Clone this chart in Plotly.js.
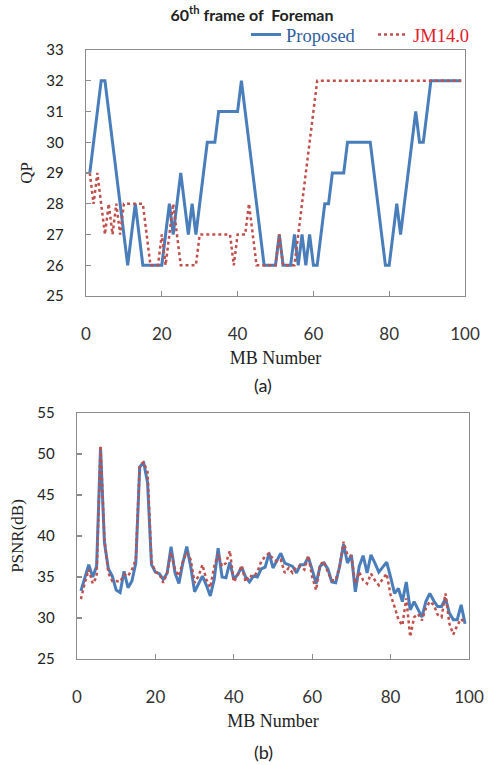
<!DOCTYPE html>
<html>
<head>
<meta charset="utf-8">
<script src="https://cdn.plot.ly/plotly-3.0.1.min.js"></script>
<style>html,body{margin:0;padding:0;background:#fff;}#chart{width:490px;height:765px;}</style>
</head>
<body>
<div id="chart"></div>
<script>
const mbNumber = [1,2,3,4,5,6,7,8,9,10,11,12,13,14,15,16,17,18,19,20,21,22,23,24,25,26,27,28,29,30,31,32,33,34,35,36,37,38,39,40,41,42,43,44,45,46,47,48,49,50,51,52,53,54,55,56,57,58,59,60,61,62,63,64,65,66,67,68,69,70,71,72,73,74,75,76,77,78,79,80,81,82,83,84,85,86,87,88,89,90,91,92,93,94,95,96,97,98,99];

const qpProposed = [29,30,31,32,32,31,30,29,28,27,26,27,28,27,26,26,26,26,26,26,27,28,27,28,29,28,27,28,27,28,29,30,30,30,31,31,31,31,31,31,32,31,30,29,28,27,26,26,26,26,27,26,26,26,27,26,27,26,27,26,26,27,28,28,29,29,29,29,30,30,30,30,30,30,30,29,28,27,26,26,27,28,27,28,29,30,31,30,30,31,32,32,32,32,32,32,32,32,32];

const qpJM = [29,28,29,28,27,28,27,28,27,28,28,28,28,28,28,27,26,26,26,27,26,27,28,27,26,26,26,26,26,27,27,27,27,27,27,27,27,27,26,27,27,27,28,27,26,26,26,26,26,26,27,26,26,26,26,27,28,29,30,31,32,32,32,32,32,32,32,32,32,32,32,32,32,32,32,32,32,32,32,32,32,32,32,32,32,32,32,32,32,32,32,32,32,32,32,32,32,32,32];

const psnrProposed = [33.3,35.0,36.5,35.0,36.3,50.8,39.2,36.0,35.1,33.4,33.1,35.7,33.7,34.5,36.7,48.4,49.0,46.5,36.5,35.6,35.4,34.7,35.5,38.7,35.5,34.2,36.7,38.7,36.3,33.2,34.2,35.1,34.0,32.7,34.7,38.5,35.0,34.9,36.8,34.7,35.3,36.2,35.0,34.4,35.1,35.0,36.0,36.2,37.9,36.1,37.0,37.9,36.7,36.5,36.3,35.5,36.5,36.5,37.4,35.9,34.2,36.3,36.7,36.0,34.4,34.3,36.3,39.0,36.7,37.7,33.2,36.3,37.6,35.5,37.7,36.7,35.6,36.2,36.8,35.0,33.0,33.6,32.0,34.4,31.0,32.0,31.0,30.1,32.0,33.0,32.1,31.4,31.4,32.4,30.6,29.8,29.8,31.6,29.3];

const psnrJM = [32.3,34.3,35.9,34.2,35.0,51.0,39.6,35.5,34.5,34.5,34.4,35.3,35.1,35.9,37.1,48.6,49.0,47.8,36.9,35.6,35.4,34.3,35.5,38.0,35.9,35.1,36.9,38.0,37.1,34.3,35.1,36.5,34.7,33.7,36.3,37.8,36.3,36.7,38.2,34.4,35.2,36.4,34.4,35.2,35.0,35.6,36.9,37.5,37.9,37.2,36.9,37.1,35.5,36.1,35.5,36.3,36.3,35.9,37.6,35.0,33.4,36.5,36.9,35.6,34.6,34.6,36.3,39.3,37.7,37.5,34.2,35.6,34.6,34.2,35.4,34.6,34.0,34.8,35.4,32.8,31.4,29.8,29.1,32.4,27.7,30.1,30.5,29.7,31.2,32.0,31.6,30.4,30.1,33.0,29.3,28.0,29.1,29.9,29.3];

const seriesNames = ['Proposed', 'JM14.0'];
const chartTitle = '60<sup>th</sup> frame of  Foreman';
const xTitle = 'MB Number';
const qpTitle = 'QP';
const psnrTitle = 'PSNR(dB)';

const blue = '#4a7ebb';
const red = '#c0504d';
const axisCol = '#8c8c8c';
const serif = 'Liberation Serif, Times New Roman, serif';
const sans = 'Lato, Carlito, Calibri, sans-serif';

const traces = [
  {x: mbNumber, y: qpProposed, xaxis: 'x', yaxis: 'y', type: 'scatter', mode: 'lines',
   name: '<span style="color:#2f5d9e">' + seriesNames[0] + '</span>',
   line: {color: blue, width: 3}},
  {x: mbNumber, y: qpJM, xaxis: 'x', yaxis: 'y', type: 'scatter', mode: 'lines',
   name: '<span style="color:#e0202e">' + seriesNames[1] + '</span>',
   line: {color: red, width: 2.5, dash: 'dot'}},
  {x: mbNumber, y: psnrProposed, xaxis: 'x2', yaxis: 'y2', type: 'scatter', mode: 'lines',
   name: seriesNames[0], showlegend: false, line: {color: blue, width: 3}},
  {x: mbNumber, y: psnrJM, xaxis: 'x2', yaxis: 'y2', type: 'scatter', mode: 'lines',
   name: seriesNames[1], showlegend: false, line: {color: red, width: 2.5, dash: 'dot'}}
];

function xAxis(domain, anchor) {
  return {
    domain: domain, anchor: anchor, range: [0, 100], tick0: 0, dtick: 20,
    showgrid: false, zeroline: false, showline: true, mirror: true,
    linecolor: axisCol, linewidth: 1.3, ticks: 'inside', ticklen: 5, tickcolor: axisCol, tickwidth: 1.2,
    tickfont: {family: sans, size: 17, color: '#333'}, ticklabelstandoff: 22,
    title: {text: xTitle, font: {family: serif, size: 18, color: '#222'}, standoff: 8}
  };
}
function yAxis(domain, anchor, range, dtick, title) {
  return {
    domain: domain, anchor: anchor, range: range, dtick: dtick,
    showgrid: false, zeroline: false, showline: true, mirror: true,
    linecolor: axisCol, linewidth: 1.3, ticks: 'inside', ticklen: 5, tickcolor: axisCol, tickwidth: 1.2,
    tickfont: {family: sans, size: 15, color: '#222'}, ticklabelstandoff: 18,
    title: {text: title, font: {family: serif, size: 17, color: '#222'}, standoff: 9}
  };
}

const layout = {
  width: 490, height: 765,
  margin: {l: 0, r: 0, t: 0, b: 0, autoexpand: false},
  paper_bgcolor: '#fff', plot_bgcolor: '#fff',
  title: {text: chartTitle, font: {family: sans, size: 16, color: '#222', weight: 'bold'},
          x: 252 / 490, xanchor: 'center', y: 1 - 15 / 765, yanchor: 'middle'},
  xaxis: xAxis([86 / 490, 465 / 490], 'y'),
  yaxis: yAxis([1 - 296 / 765, 1 - 50 / 765], 'x', [25, 33], 1, qpTitle),
  xaxis2: xAxis([77 / 490, 469 / 490], 'y2'),
  yaxis2: yAxis([1 - 659 / 765, 1 - 413 / 765], 'x2', [25, 55], 5, psnrTitle),
  showlegend: true,
  legend: {orientation: 'h', x: 246 / 490, xanchor: 'left', y: 1 - 35 / 765, yanchor: 'middle',
           font: {family: serif, size: 18.5}, bgcolor: 'rgba(0,0,0,0)', itemwidth: 30, tracegroupgap: 0,
           entrywidth: 82, entrywidthmode: 'pixels'},
  annotations: [
    {text: '(a)', x: 263 / 490, y: 1 - 385 / 765, xref: 'paper', yref: 'paper', showarrow: false,
     font: {family: sans, size: 18, color: '#222'}, xanchor: 'center', yanchor: 'middle'},
    {text: '(b)', x: 263 / 490, y: 1 - 752 / 765, xref: 'paper', yref: 'paper', showarrow: false,
     font: {family: sans, size: 18, color: '#222'}, xanchor: 'center', yanchor: 'middle'}
  ]
};

Plotly.newPlot('chart', traces, layout, {displayModeBar: false, staticPlot: true});
</script>
</body>
</html>
